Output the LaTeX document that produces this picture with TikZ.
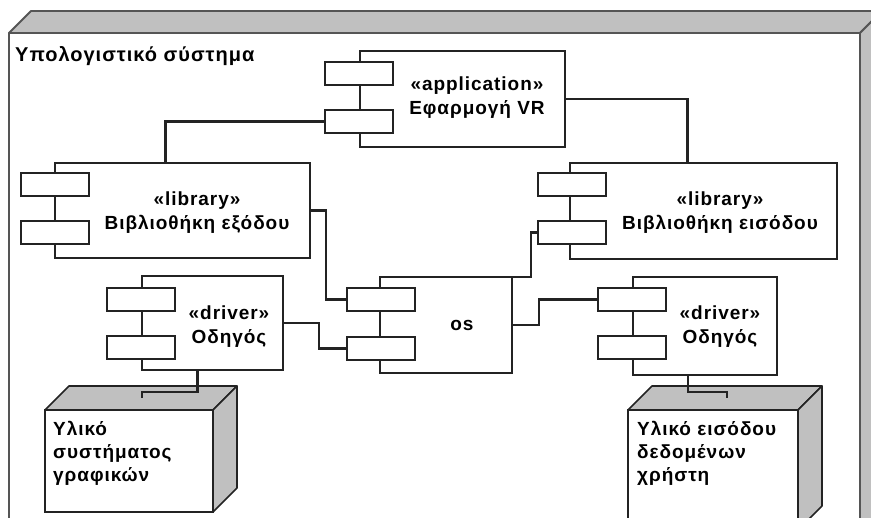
\documentclass[tikz,border=0pt]{standalone}
\usepackage{fontspec}
\setmainfont[LetterSpace=5]{Liberation Sans}
\definecolor{boxgray}{RGB}{192,192,192}
\definecolor{inkc}{RGB}{35,35,35}
\definecolor{outc}{RGB}{85,85,85}
\begin{document}
\begin{tikzpicture}[x=1pt,y=-1pt,
  ink/.style={draw=inkc, line width=1.7pt},
  body/.style={ink, fill=white, rectangle, inner sep=0pt, outer sep=0pt, anchor=north west},
  port/.style={ink, fill=white, rectangle, inner sep=0pt, outer sep=0pt, anchor=north west, minimum width=68pt, minimum height=23pt},
  lbl/.style={font=\fontsize{19}{24}\selectfont\bfseries, align=center, inner sep=0pt},
  conn/.style={draw=inkc, line width=2.1pt, line join=miter},
  face/.style={draw=inkc, fill=boxgray, line width=1.6pt, line join=round},
  outer/.style={draw=outc, line width=1.8pt, line join=round}]
\useasboundingbox (0,0) rectangle (871,518);
\begin{scope}
\clip (0,0) rectangle (871,518);
\fill[white] (0,0) rectangle (871,518);
% outer system node (3D box)
\draw[outer, fill=boxgray] (9,33) -- (31,11) -- (882,11) -- (860,33) -- cycle;
\draw[outer, fill=boxgray] (860,33) -- (882,11) -- (882,560) -- (860,560) -- cycle;
\draw[outer, fill=white] (9,33) rectangle (860,560);
\node[lbl, anchor=base west, font=\fontsize{20}{24}\selectfont\bfseries] (title) at (15,62) {Υπολογιστικό σύστημα};

% application
\node[body, minimum width=205pt, minimum height=96pt] (app) at (360,51) {};
\node[port] (appP1) at (325,62) {};
\node[port] (appP2) at (325,110) {};
\node[lbl] (appT) at (477,98) {«application»\\Εφαρμογή VR};

% library output
\node[body, minimum width=255pt, minimum height=95pt] (libout) at (55,163) {};
\node[port] (liboutP1) at (21,173) {};
\node[port] (liboutP2) at (21,221) {};
\node[lbl] (liboutT) at (197,213) {«library»\\Βιβλιοθήκη εξόδου};

% library input
\node[body, minimum width=267pt, minimum height=96pt] (libin) at (570,163) {};
\node[port] (libinP1) at (538,173) {};
\node[port] (libinP2) at (538,221) {};
\node[lbl] (libinT) at (720,213) {«library»\\Βιβλιοθήκη εισόδου};

% driver left
\node[body, minimum width=141pt, minimum height=94pt] (drvL) at (142,276) {};
\node[port] (drvLP1) at (107,288) {};
\node[port] (drvLP2) at (107,336) {};
\node[lbl] (drvLT) at (229,327) {«driver»\\Οδηγός};

% OS
\node[body, minimum width=132pt, minimum height=96pt] (os) at (380,277) {};
\node[port] (osP1) at (347,288) {};
\node[port] (osP2) at (347,337) {};
\node[lbl] (osT) at (462,325) {os};

% driver right
\node[body, minimum width=144pt, minimum height=98pt] (drvR) at (633,277) {};
\node[port] (drvRP1) at (598,288) {};
\node[port] (drvRP2) at (598,336) {};
\node[lbl] (drvRT) at (720,327) {«driver»\\Οδηγός};

% device left
\draw[face] (45,410) -- (69,386) -- (237,386) -- (213,410) -- cycle;
\draw[face] (213,410) -- (237,386) -- (237,488) -- (213,512) -- cycle;
\node[body, minimum width=168pt, minimum height=102pt] (devL) at (45,410) {};
\coordinate (devLtop) at (142,398);
\node[lbl, align=left, anchor=north west, font=\fontsize{19}{23}\selectfont\bfseries] (devLT) at (53,421) {Υλικό\\συστήματος\\γραφικών};

% device right
\draw[face] (628,410) -- (652,386) -- (822,386) -- (798,410) -- cycle;
\draw[face] (798,410) -- (822,386) -- (822,506) -- (798,530) -- cycle;
\node[body, minimum width=170pt, minimum height=120pt] (devR) at (628,410) {};
\coordinate (devRtop) at (727,398);
\node[lbl, align=left, anchor=north west, font=\fontsize{19}{23}\selectfont\bfseries] (devRT) at (637,421) {Υλικό εισόδου\\δεδομένων\\χρήστη};

% connectors
\draw[conn] (appP2.west) -| ([xshift=-17pt]libout.north);
\draw[conn] (app.east) -| ([xshift=-16pt]libin.north);
\draw[conn] (libout.east) -- ++(16pt,0pt) |- (osP1.west);
\draw[conn] (drvL.east) -- ++(36pt,0pt) |- (osP2.west);
\draw[conn] (os.east) -- ++(27pt,0pt) |- (drvRP1.west);
\draw[conn] (os.north east) -- ++(19pt,0pt) |- (libinP2.west);
\draw[conn] ([xshift=-15pt]drvL.south) -- ++(0pt,-22pt) -| (devLtop);
\draw[conn] ([xshift=-17pt]drvR.south) -- ++(0pt,-17pt) -| (devRtop);
\end{scope}
\end{tikzpicture}
\end{document}
